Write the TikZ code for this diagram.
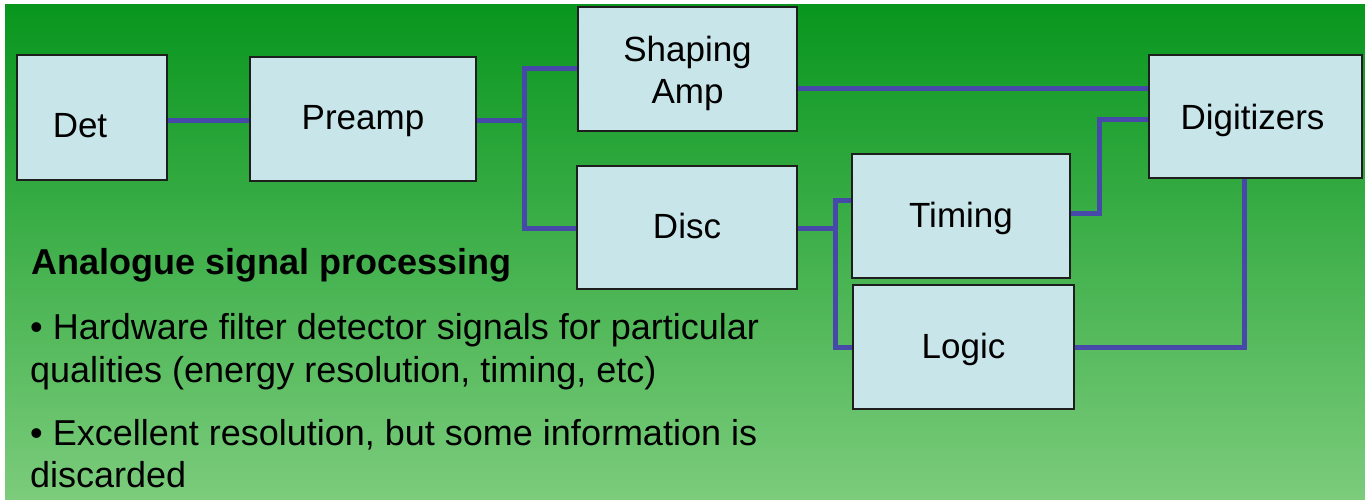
\documentclass[tikz,border=0pt]{standalone}
\usepackage{fontspec}
\setmainfont{Liberation Sans}
\definecolor{bgtop}{RGB}{8,150,30}
\definecolor{bgmid}{RGB}{64,182,72}
\definecolor{bgbot}{RGB}{124,204,124}
\definecolor{boxfill}{RGB}{200,230,234}
\definecolor{boxline}{RGB}{30,30,30}
\definecolor{wirecol}{RGB}{70,72,170}
\newcommand{\shiftdown}[2]{\raisebox{-#1}[\height][\depth]{#2}}
\tikzset{
  blockbox/.style={draw=boxline, line width=1.5pt, fill=boxfill, rectangle, inner sep=0pt,
    font=\fontsize{35}{42}\selectfont, align=center},
  wire/.style={draw=wirecol, line width=5pt},
  bodytext/.style={inner sep=0pt, anchor=base west, font=\fontsize{36}{43}\selectfont}
}
\begin{document}
\begin{tikzpicture}[x=1pt, y=-1pt]
\useasboundingbox (0,0) rectangle (1365,499);
\fill[white] (0,0) rectangle (1365,499);
\shade[top color=bgtop, middle color=bgmid, bottom color=bgbot] (5,4) rectangle (1366,501);

% boxes
\node[blockbox, minimum width=150pt, minimum height=125pt] (det) at (92,117.5) {};
\node[inner sep=0pt, font=\fontsize{35}{42}\selectfont] (dettext) at (80,126) {Det};
\node[blockbox, minimum width=226pt, minimum height=124pt] (pre) at (363,119) {\shiftdown{2pt}{Preamp}};
\node[blockbox, minimum width=219pt, minimum height=124pt] (shp) at (687.5,69) {\shiftdown{5pt}{\begin{tabular}{@{}c@{}}Shaping\\Amp\end{tabular}}};
\node[blockbox, minimum width=220pt, minimum height=123pt] (disc) at (687,227.5) {\shiftdown{-2pt}{Disc}};
\node[blockbox, minimum width=218pt, minimum height=124pt] (tim) at (961,216) {\shiftdown{2pt}{Timing}};
\node[blockbox, minimum width=221pt, minimum height=124pt] (log) at (963.5,347) {\shiftdown{2pt}{Logic}};
\node[blockbox, minimum width=213pt, minimum height=123pt] (dig) at (1255.5,116.5) {\shiftdown{4pt}{\hspace*{-6pt}Digitizers}};

% junctions
\coordinate (j1) at (524,120);
\coordinate (j2) at (835,228);

% wires
\draw[wire] (det.east |- 0,120) -- (pre.west |- 0,120);
\draw[wire] (pre.east |- 0,120) -- (j1);
\draw[wire] (shp.west |- 0,68) -| (j1) |- (disc.west |- 0,228);
\draw[wire] (shp.east |- 0,88) -- (dig.west |- 0,88);
\draw[wire] (disc.east |- 0,228) -- (j2);
\draw[wire] (tim.west |- 0,200) -| (j2) |- (log.west |- 0,347);
\draw[wire] (tim.east |- 0,213) -| (1099,119) -- (dig.west |- 0,119);
\draw[wire] (log.east |- 0,347) -| (1244,0 |- dig.south);

% text
\node[bodytext, font=\fontsize{36}{43}\selectfont\bfseries] (head) at (31,274) {Analogue signal processing};
\node[bodytext] (b1a) at (30,339) {• Hardware filter detector signals for particular};
\node[bodytext] (b1b) at (30,382) {qualities (energy resolution, timing, etc)};
\node[bodytext] (b2a) at (30,445) {• Excellent resolution, but some information is};
\node[bodytext] (b2b) at (30,487) {discarded};
\end{tikzpicture}
\end{document}
